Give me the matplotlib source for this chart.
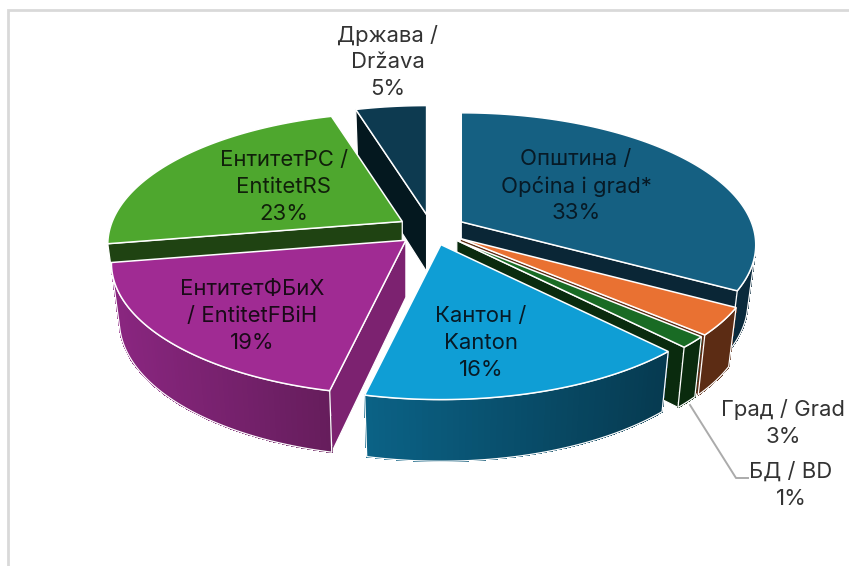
import numpy as np
import matplotlib
matplotlib.use("Agg")
import matplotlib.pyplot as plt
from matplotlib.colors import to_rgb
from matplotlib.patches import Polygon

# Data
names = ["Општина /\nOpćina i grad*", "Град / Grad", "БД / BD", "Кантон /\nKanton",
         "ЕнтитетФБиХ\n/ EntitetFBiH", "ЕнтитетРС /\nEntitetRS", "Држава /\nDržava"]
shares = [33.2, 3.4, 1.4, 15.5, 18.8, 23.1, 4.6]

# Style per slice
top_colors = ["#156082", "#E97132", "#196B24", "#0F9ED5", "#A02B93", "#4EA72E", "#0D3A50"]
cut_colors = ["#0A2636", "#5C2C14", "#0A2B0E", "#0A4460", "#7C2270", "#1F4312", "#04181F"]
rim_start = ["#0A2A3C", "#5C2C14", "#0A2B0E", "#0B6286", "#8A2680", "#1F4312", "#04181F"]
rim_end = ["#0A2A3C", "#5C2C14", "#0A2B0E", "#063A50", "#651D5C", "#1F4312", "#04181F"]
draw_order = [6, 0, 5, 1, 2, 4, 3]
label_pos = [(576, 186), (783, 423), (791, 485), (481, 343), (252, 316), (284, 187), (388, 62)]
label_color = ["#071a26", "#333333", "#333333", "#071a26", "#1a0a18", "#10200a", "#333333"]

# Projection parameters (pixels)
CX, CY, RX, RY, K, EXPL = 431.5, 229.5, 290.0, 128.0, 0.174, 0.12
DROP, XB, YB = 57.0, 0.973, 1.03


def rel(u, v, bottom=False):
    s = 1.0 / (1.0 + K * v)
    if bottom:
        return XB * RX * u * s, DROP - YB * RY * v * s
    return RX * u * s, -RY * v * s


def signed_area(pts):
    p = np.asarray(pts)
    x, y = p[:, 0], p[:, 1]
    return 0.5 * np.sum(x * np.roll(y, -1) - np.roll(x, -1) * y)


def mix(a, b, t):
    a, b = np.array(to_rgb(a)), np.array(to_rgb(b))
    return tuple(a + (b - a) * t)


fig = plt.figure(figsize=(8.49, 5.66), dpi=100, facecolor="white")
ax = fig.add_axes([0, 0, 1, 1])
ax.set_xlim(0, 849)
ax.set_ylim(566, 0)
ax.axis("off")

# Chart frame
ax.plot([8.5, 8.5, 849], [566, 10, 10], color="#D9D9D9", lw=2.0, solid_joinstyle="miter", zorder=1)

edges = np.cumsum([0] + shares) / sum(shares) * 2 * np.pi
z = 2
for i in draw_order:
    t0, t1 = edges[i], edges[i + 1]
    mid = (t0 + t1) / 2
    dx, dy = rel(EXPL * np.sin(mid), EXPL * np.cos(mid))
    ax0, ay0 = CX + dx, CY + dy
    th = np.linspace(t0, t1, max(6, int(np.degrees(t1 - t0))))
    top = [(ax0, ay0)]
    bot = [(ax0, ay0 + DROP)]
    for a in th:
        rx, ry = rel(np.sin(a), np.cos(a))
        top.append((ax0 + rx, ay0 + ry))
        rx, ry = rel(np.sin(a), np.cos(a), True)
        bot.append((ax0 + rx, ay0 + ry))
    n = len(top)

    # Straight cut walls: apex->first rim point, last rim point->apex
    for a, b in ((0, 1), (n - 1, 0)):
        quad = [top[a], top[b], bot[b], bot[a]]
        if signed_area(quad) < 0:
            ax.add_patch(Polygon(quad, closed=True, fc=cut_colors[i], ec="white", lw=0.9, zorder=z))
            z += 1

    # Curved wall, drawn as narrow front-facing strips with a colour ramp
    visible = []
    xs = [p[0] for p in top[1:]]
    for a in range(1, n - 1):
        quad = [top[a], top[a + 1], bot[a + 1], bot[a]]
        if signed_area(quad) < 0:
            visible.append(a)
            frac = (max(xs) - (top[a][0] + top[a + 1][0]) / 2) / max(max(xs) - min(xs), 1)
            col = mix(rim_end[i], rim_start[i], frac)
            ax.add_patch(Polygon(quad, closed=True, fc=col, ec=col, lw=0.6, antialiased=False, zorder=z))
    z += 1
    if visible:
        outline = [top[a] for a in visible] + [top[visible[-1] + 1], bot[visible[-1] + 1]] + \
                  [bot[a] for a in reversed(visible)]
        ax.add_patch(Polygon(outline, closed=True, fc="none", ec="white", lw=0.9, zorder=z))
        z += 1

    # Top face
    ax.add_patch(Polygon(top, closed=True, fc=top_colors[i], ec="white", lw=1.1, zorder=z))
    z += 1

# Leader line for the smallest slice
ax.plot([690, 736, 748], [405, 478, 478], color="#ABABAB", lw=1.4, zorder=z)
z += 1

# Labels
for name, share, (lx, ly), col in zip(names, shares, label_pos, label_color):
    ax.text(lx, ly, f"{name}\n{share:.0f}%", ha="center", va="center", multialignment="center",
            family="Inter", fontsize=15.9, color=col, linespacing=1.42, zorder=z)

fig.savefig("out.png", dpi=100, facecolor="white")
